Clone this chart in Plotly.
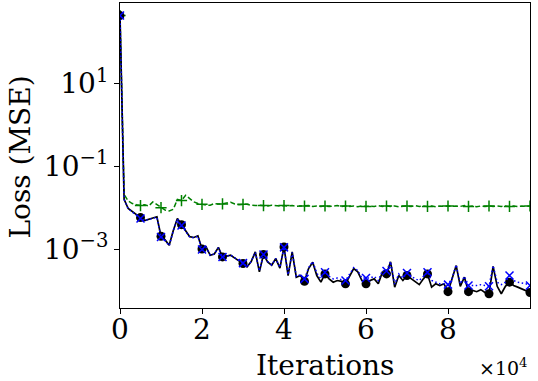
import plotly.graph_objects as go

# Iterations (every 1000 steps)
iterations = list(range(0, 100001, 1000))

# log10 of loss values
black_log = [2.64, -1.80, -2.02, -2.10, -2.17, -2.24, -2.31, -2.28, -2.25, -2.22,
             -2.69, -2.78, -2.91, -2.55, -2.26, -2.41, -2.55, -2.70, -2.72, -2.68,
             -3.00, -2.95, -3.15, -3.12, -2.96, -3.19, -3.17, -3.15, -3.22, -3.28,
             -3.35, -3.43, -3.30, -3.07, -3.55, -3.13, -3.31, -3.39, -3.23, -3.46,
             -2.95, -3.64, -3.07, -3.68, -3.64, -3.78, -3.47, -3.32, -3.64, -3.80,
             -3.60, -3.72, -3.80, -3.76, -3.78, -3.84, -3.66, -3.47, -3.55, -3.76,
             -3.84, -3.76, -3.72, -3.84, -3.56, -3.60, -3.31, -3.92, -3.64, -3.76,
             -3.64, -3.72, -3.80, -3.86, -3.72, -3.60, -3.92, -3.84, -3.88, -3.84,
             -4.03, -3.72, -3.40, -3.90, -3.68, -4.03, -4.00, -4.03, -3.98, -4.05,
             -4.08, -3.42, -3.90, -4.08, -3.90, -3.80, -3.88, -3.92, -3.96, -4.00,
             -4.05]

blue_log = [2.64, -1.80, -2.03, -2.11, -2.18, -2.26, -2.31, -2.29, -2.26, -2.23,
            -2.71, -2.79, -2.92, -2.56, -2.27, -2.43, -2.56, -2.71, -2.73, -2.69,
            -3.01, -2.96, -3.15, -3.12, -2.97, -3.19, -3.17, -3.15, -3.21, -3.27,
            -3.34, -3.42, -3.30, -3.08, -3.53, -3.13, -3.30, -3.38, -3.23, -3.44,
            -2.96, -3.62, -3.08, -3.66, -3.62, -3.72, -3.45, -3.30, -3.58, -3.72,
            -3.56, -3.66, -3.72, -3.70, -3.74, -3.76, -3.62, -3.45, -3.52, -3.70,
            -3.70, -3.70, -3.66, -3.76, -3.52, -3.53, -3.30, -3.85, -3.60, -3.70,
            -3.58, -3.66, -3.72, -3.76, -3.66, -3.56, -3.76, -3.80, -3.84, -3.84,
            -3.86, -3.70, -3.38, -3.84, -3.66, -3.88, -3.88, -3.88, -3.86, -3.88,
            -3.90, -3.40, -3.80, -3.86, -3.80, -3.64, -3.76, -3.80, -3.82, -3.84,
            -3.88]

green_log = [2.64, -1.68, -1.84, -1.90, -1.93, -1.95, -1.93, -1.96, -1.86, -1.93,
             -2.00, -2.06, -2.08, -2.04, -1.80, -1.83, -1.70, -1.78, -1.86, -1.90,
             -1.92, -1.94, -1.94, -1.90, -1.91, -1.91, -1.89, -1.87, -1.91, -1.93,
             -1.92, -1.92, -1.94, -1.95, -1.94, -1.95, -1.96, -1.94, -1.95, -1.96,
             -1.95, -1.96, -1.95, -1.97, -1.96, -1.96, -1.95, -1.97, -1.96, -1.97,
             -1.96, -1.97, -1.96, -1.95, -1.97, -1.96, -1.97, -1.96, -1.98, -1.96,
             -1.97, -1.96, -1.97, -1.95, -1.97, -1.96, -1.97, -1.96, -1.98, -1.97,
             -1.96, -1.97, -1.95, -1.97, -1.96, -1.97, -1.96, -1.98, -1.96, -1.97,
             -1.96, -1.97, -1.96, -1.97, -1.95, -1.97, -1.96, -1.98, -1.96, -1.97,
             -1.96, -1.97, -1.96, -1.97, -1.96, -1.97, -1.96, -1.97, -1.96, -1.97,
             -1.96]

x_tick_vals = [0, 20000, 40000, 60000, 80000]
x_tick_text = ["0", "2", "4", "6", "8"]
y_tick_vals = [10, 0.1, 0.001]
y_tick_text = ["10<sup>1</sup>", "10<sup>\u22121</sup>", "10<sup>\u22123</sup>"]

FONT = "DejaVu Serif"
marker_idx = [i for i in range(len(iterations)) if iterations[i] % 5000 == 0]


def to_loss(lst):
    return [10 ** v for v in lst]


fig = go.Figure()


def add_series(logs, color, dash, symbol, msize, mline, lwidth):
    y = to_loss(logs)
    fig.add_trace(go.Scatter(x=iterations, y=y, mode="lines",
                             line=dict(color=color, width=lwidth, dash=dash),
                             showlegend=False, hoverinfo="skip"))
    fig.add_trace(go.Scatter(x=[iterations[i] for i in marker_idx],
                             y=[y[i] for i in marker_idx], mode="markers",
                             marker=dict(color=color, symbol=symbol, size=msize,
                                         line=dict(color=color, width=mline)),
                             showlegend=False))


add_series(green_log, "green", "5px,2.5px", "cross-thin", 8, 1.5, 1.5)
add_series(black_log, "black", "solid", "circle", 9, 0, 1.7)
add_series(blue_log, "blue", "1.5px,2.5px", "x-thin", 8, 1.5, 1.5)

fig.update_layout(
    width=538, height=381,
    margin=dict(l=120, r=8, t=3, b=73),
    paper_bgcolor="white", plot_bgcolor="white",
    font=dict(family=FONT, size=28, color="black"),
    xaxis=dict(range=[0, 100000], tickvals=x_tick_vals, ticktext=x_tick_text,
               ticks="outside", ticklen=5, tickwidth=1, tickcolor="black",
               showline=True, linecolor="black", linewidth=1, mirror=True,
               showgrid=False, zeroline=False, tickfont=dict(size=28),
               ticklabelstandoff=-9, automargin=False),
    yaxis=dict(type="log", range=[-4.424, 2.944], tickvals=y_tick_vals,
               ticktext=y_tick_text, ticks="outside", ticklen=5, tickwidth=1,
               tickcolor="black", showline=True, linecolor="black", linewidth=1,
               mirror=True, showgrid=False, zeroline=False, tickfont=dict(size=28),
               automargin=False),
    annotations=[
        dict(text="Loss (MSE)", xref="paper", yref="paper", x=-0.245, y=0.495,
             textangle=-90, showarrow=False, font=dict(size=28),
             xanchor="center", yanchor="middle"),
        dict(text="Iterations", xref="paper", yref="paper", x=0.499, y=-0.19,
             showarrow=False, font=dict(size=28), xanchor="center", yanchor="middle"),
        dict(text="\u00d710<sup>4</sup>", xref="paper", yref="paper", x=1.0, y=-0.195,
             showarrow=False, font=dict(size=19), xanchor="right", yanchor="middle"),
    ],
)

fig.write_html("out.html", config={"displayModeBar": False},
               post_script="document.body.style.margin='0';document.body.style.overflow='hidden';")
